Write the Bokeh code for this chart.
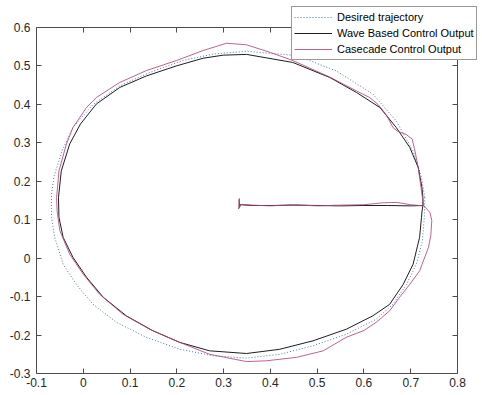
from bokeh.plotting import figure
from bokeh.models import (Range1d, FixedTicker, LinearAxis, CustomJSTickFormatter,
                          Legend, LegendItem)
from bokeh.embed import file_html
from bokeh.resources import INLINE

# ---------------- data ----------------
x_ticks = [-0.1, 0.0, 0.1, 0.2, 0.3, 0.4, 0.5, 0.6, 0.7, 0.8]
x_tick_labels = ["-0.1", "0", "0.1", "0.2", "0.3", "0.4", "0.5", "0.6", "0.7", "0.8"]
y_ticks = [-0.3, -0.2, -0.1, 0.0, 0.1, 0.2, 0.3, 0.4, 0.5, 0.6]
y_tick_labels = ["-0.3", "-0.2", "-0.1", "0", "0.1", "0.2", "0.3", "0.4", "0.5", "0.6"]

series_names = ["Desired trajectory", "Wave Based Control Output", "Casecade Control Output"]

desired_x = [0.730, 0.723, 0.705, 0.669, 0.619, 0.541, 0.456, 0.349, 0.278, 0.213,
             0.142, 0.078, 0.021, -0.022, -0.045, -0.062, -0.068, -0.068, -0.061, -0.043,
             -0.015, 0.021, 0.071, 0.135, 0.206, 0.278, 0.349, 0.420, 0.491, 0.562,
             0.626, 0.662, 0.691, 0.712, 0.725, 0.729, 0.730]
desired_y = [0.158, 0.210, 0.279, 0.357, 0.427, 0.487, 0.527, 0.538, 0.531, 0.514,
             0.483, 0.448, 0.400, 0.340, 0.280, 0.215, 0.166, 0.106, 0.054, -0.016,
             -0.068, -0.120, -0.167, -0.206, -0.237, -0.254, -0.260, -0.250, -0.228, -0.198,
             -0.159, -0.120, -0.068, -0.016, 0.045, 0.106, 0.158]

wave_x = [0.333, 0.334, 0.336, 0.360, 0.400, 0.450, 0.500, 0.550, 0.600, 0.650,
          0.700, 0.726, 0.724, 0.723, 0.719, 0.705, 0.684, 0.655, 0.619, 0.562,
          0.491, 0.420, 0.349, 0.270, 0.206, 0.149, 0.092, 0.043, 0.007, -0.022,
          -0.043, -0.052, -0.053, -0.047, -0.029, -0.006, 0.028, 0.078, 0.135, 0.199,
          0.256, 0.299, 0.349, 0.448, 0.527, 0.584, 0.634, 0.669, 0.698, 0.716,
          0.724, 0.726, 0.726]
wave_y = [0.153, 0.132, 0.139, 0.137, 0.137, 0.138, 0.137, 0.136, 0.137, 0.137,
          0.136, 0.137, 0.120, 0.106, 0.054, -0.016, -0.068, -0.120, -0.150, -0.185,
          -0.215, -0.237, -0.248, -0.241, -0.219, -0.189, -0.150, -0.102, -0.050, 0.002,
          0.054, 0.106, 0.158, 0.227, 0.297, 0.349, 0.401, 0.444, 0.474, 0.500,
          0.520, 0.528, 0.530, 0.509, 0.470, 0.431, 0.392, 0.340, 0.288, 0.236,
          0.184, 0.158, 0.137]

casecade_x = [0.334, 0.332, 0.336, 0.360, 0.400, 0.450, 0.500, 0.550, 0.600, 0.640,
              0.670, 0.700, 0.728, 0.741, 0.745, 0.743, 0.738, 0.719, 0.698, 0.676,
              0.655, 0.626, 0.600, 0.562, 0.513, 0.456, 0.391, 0.349, 0.270, 0.206,
              0.142, 0.085, 0.035, 0.000, -0.029, -0.050, -0.056, -0.057, -0.052, -0.036,
              -0.022, 0.007, 0.028, 0.078, 0.135, 0.199, 0.256, 0.306, 0.349, 0.400,
              0.448, 0.527, 0.584, 0.612, 0.630, 0.640, 0.648, 0.662, 0.672, 0.690,
              0.703, 0.708, 0.716, 0.722, 0.725, 0.728]
casecade_y = [0.156, 0.128, 0.140, 0.138, 0.136, 0.139, 0.136, 0.138, 0.139, 0.144,
              0.145, 0.139, 0.136, 0.119, 0.098, 0.060, 0.028, -0.033, -0.068, -0.102,
              -0.137, -0.167, -0.188, -0.206, -0.241, -0.258, -0.267, -0.269, -0.250, -0.219,
              -0.185, -0.146, -0.094, -0.042, 0.010, 0.071, 0.123, 0.158, 0.227, 0.297,
              0.340, 0.392, 0.418, 0.457, 0.488, 0.514, 0.540, 0.559, 0.555, 0.535,
              0.514, 0.471, 0.435, 0.418, 0.400, 0.385, 0.372, 0.340, 0.330, 0.322,
              0.310, 0.285, 0.236, 0.184, 0.158, 0.136]

# ---------------- figure ----------------
FONT = "Liberation Sans"
AX = "#4d4d4d"

# The frame extends past the axes box (to the top and right) so the legend,
# which sticks out of the box as in the reference, is not clipped.
p = figure(width=482, height=395,
           x_range=Range1d(-0.1, 0.8449), y_range=Range1d(-0.3, 0.6598),
           output_backend="svg", toolbar_location=None,
           x_axis_location=None, y_axis_location=None,
           min_border_left=36, min_border_right=4,
           min_border_top=4, min_border_bottom=22)
p.grid.visible = False
p.outline_line_color = None
p.background_fill_color = "white"
p.border_fill_color = "white"


def style(ax, labels):
    ax.axis_line_color = AX
    ax.axis_line_width = 1
    ax.major_tick_line_color = AX
    ax.major_tick_in = 5
    ax.major_tick_out = 0
    ax.minor_tick_line_color = None
    ax.major_label_text_font = FONT
    ax.major_label_text_font_size = "12px"
    ax.major_label_text_color = "#262626"
    ax.major_label_standoff = 4
    if labels is None:
        ax.formatter = CustomJSTickFormatter(code="return '';")
        ax.major_label_standoff = 0
        ax.major_label_text_font_size = "1px"
    else:
        ax.formatter = CustomJSTickFormatter(args=dict(labels=labels),
                                             code="return labels[index];")


xb = LinearAxis(ticker=FixedTicker(ticks=x_ticks), bounds=(-0.1, 0.8))
style(xb, x_tick_labels)
yl = LinearAxis(ticker=FixedTicker(ticks=y_ticks), bounds=(-0.3, 0.6))
style(yl, y_tick_labels)
yl.major_label_standoff = 6
xt = LinearAxis(ticker=FixedTicker(ticks=x_ticks), bounds=(-0.1, 0.8), fixed_location=0.6)
style(xt, None)
yr = LinearAxis(ticker=FixedTicker(ticks=y_ticks), bounds=(-0.3, 0.6), fixed_location=0.8)
style(yr, None)
p.add_layout(xb, "below")
p.add_layout(yl, "left")
p.add_layout(xt, "above")
p.add_layout(yr, "right")

r_des = p.line(desired_x, desired_y, line_color="#4a78b0", line_width=1, line_dash="1 2")
r_wave = p.line(wave_x, wave_y, line_color="#1e1e1e", line_width=1)
r_cas = p.line(casecade_x, casecade_y, line_color="#b0487f", line_width=1, line_alpha=0.85)

legend = Legend(items=[LegendItem(label=series_names[0], renderers=[r_des]),
                       LegendItem(label=series_names[1], renderers=[r_wave]),
                       LegendItem(label=series_names[2], renderers=[r_cas])],
                location=(255, 313))
legend.label_text_font = FONT
legend.label_text_font_size = "11px"
legend.label_text_color = "#000000"
legend.glyph_width = 38
legend.glyph_height = 16
legend.label_height = 16
legend.label_standoff = 5
legend.spacing = 0
legend.padding = 2
legend.margin = 0
legend.border_line_color = "#333333"
legend.border_line_width = 1
legend.background_fill_color = "white"
legend.background_fill_alpha = 1
p.add_layout(legend)

open("out.html", "w").write(file_html(p, INLINE))
